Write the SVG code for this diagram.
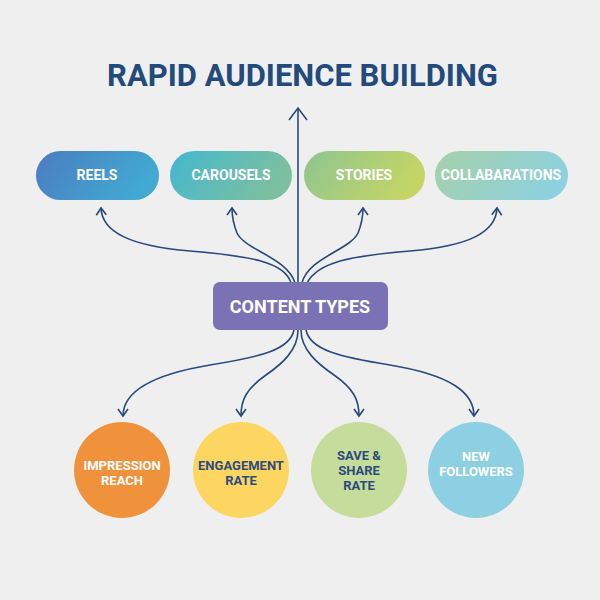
<svg xmlns="http://www.w3.org/2000/svg" width="600" height="600" viewBox="0 0 600 600">
<defs>
<style>
.t{font-family:Roboto,"Liberation Sans",sans-serif;font-weight:bold;text-anchor:middle}
.pill{font-size:14px;fill:#fff}
.c{font-size:13px}
.ln{fill:none;stroke:#27497c;stroke-width:1.6}
</style>
<marker id="ah" viewBox="0 0 12 12" refX="10" refY="6" markerWidth="12" markerHeight="12" markerUnits="userSpaceOnUse" orient="auto">
<path d="M3,1 L10,6 L3,11" fill="none" stroke="#27497c" stroke-width="1.6"/>
</marker>
<marker id="ahb" viewBox="0 0 20 20" refX="18" refY="10" markerWidth="20" markerHeight="20" markerUnits="userSpaceOnUse" orient="auto">
<path d="M6,1 L18,10 L6,19" fill="none" stroke="#27497c" stroke-width="1.6"/>
</marker>
<linearGradient id="g1" x1="0" y1="0" x2="1" y2="0.3"><stop offset="0" stop-color="#4b7cc0"/><stop offset="1" stop-color="#42a9d3"/></linearGradient>
<linearGradient id="g2" x1="0" y1="0" x2="1" y2="0.3"><stop offset="0" stop-color="#43b7d0"/><stop offset="1" stop-color="#7dc0a0"/></linearGradient>
<linearGradient id="g3" x1="0" y1="0" x2="1" y2="0.3"><stop offset="0" stop-color="#8ec592"/><stop offset="1" stop-color="#c4d565"/></linearGradient>
<linearGradient id="g4" x1="0" y1="0" x2="1" y2="0.3"><stop offset="0" stop-color="#a6d0a9"/><stop offset="1" stop-color="#8ed1de"/></linearGradient>
</defs>
<rect width="600" height="600" fill="#efefef"/>
<text class="t" x="302.5" y="86" font-size="31" fill="#234a7c">RAPID AUDIENCE BUILDING</text>
<g id="connectors">
<path class="ln" d="M298,282 L298,108" marker-end="url(#ahb)"/>
<path class="ln" d="M291,283 C285,262 250,256 190,251 C130,246 102,232 101,208" marker-end="url(#ah)"/>
<path class="ln" d="M295,283 C288,258 245,250 237,233 C233,223 232,215 232,208" marker-end="url(#ah)"/>
<path class="ln" d="M302,283 C308,258 350,250 358,233 C362,223 363,215 363,208" marker-end="url(#ah)"/>
<path class="ln" d="M307,283 C318,262 350,256 410,251 C470,246 496,232 497,208" marker-end="url(#ah)"/>
<path class="ln" d="M294,330 C290,350 260,357 210,365 C150,375 123,392 123,416" marker-end="url(#ah)"/>
<path class="ln" d="M298,330 C298,350 282,364 266,375 C246,389 241,400 241,416" marker-end="url(#ah)"/>
<path class="ln" d="M301,330 C301,350 318,364 334,375 C354,389 359,400 359,416" marker-end="url(#ah)"/>
<path class="ln" d="M306,330 C310,350 340,357 390,365 C450,375 474,392 474,416" marker-end="url(#ah)"/>
</g>
<g id="reels"><rect x="36" y="151" width="123" height="49" rx="24.5" fill="url(#g1)"/><text class="t pill" x="97" y="180">REELS</text></g>
<g id="carousels"><rect x="170" y="151" width="122" height="49" rx="24.5" fill="url(#g2)"/><text class="t pill" x="231" y="180">CAROUSELS</text></g>
<g id="stories"><rect x="304" y="151" width="121" height="49" rx="24.5" fill="url(#g3)"/><text class="t pill" x="364" y="180">STORIES</text></g>
<g id="collab"><rect x="435" y="151" width="133" height="49" rx="24.5" fill="url(#g4)"/><text class="t pill" x="501" y="180">COLLABARATIONS</text></g>
<g id="content"><rect x="213" y="282" width="175" height="48" rx="7" fill="#7a72b5"/><text class="t" x="300" y="313" font-size="18" fill="#fff">CONTENT TYPES</text></g>
<g id="impression"><circle cx="122" cy="470" r="48" fill="#f0913b"/><text class="t c" fill="#fff"><tspan x="122" y="470">IMPRESSION</tspan><tspan x="122" y="485">REACH</tspan></text></g>
<g id="engagement"><circle cx="241" cy="470" r="48" fill="#fcd660"/><text class="t c" fill="#2c4a80"><tspan x="241" y="470">ENGAGEMENT</tspan><tspan x="241" y="485">RATE</tspan></text></g>
<g id="save"><circle cx="359" cy="470" r="48" fill="#c6dc9b"/><text class="t c" fill="#2c4a80"><tspan x="359" y="460">SAVE &amp;</tspan><tspan x="359" y="475">SHARE</tspan><tspan x="359" y="490">RATE</tspan></text></g>
<g id="new"><circle cx="476" cy="470" r="48" fill="#8dcfe3"/><text class="t c" fill="#fff"><tspan x="476" y="461">NEW</tspan><tspan x="476" y="476">FOLLOWERS</tspan></text></g>
</svg>
